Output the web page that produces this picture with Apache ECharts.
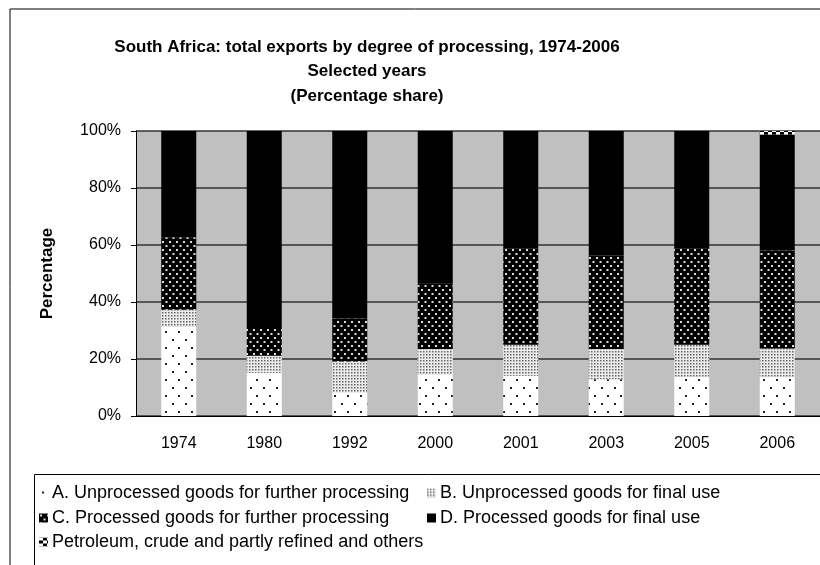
<!DOCTYPE html>
<html>
<head>
<meta charset="utf-8">
<script src="https://cdn.jsdelivr.net/npm/echarts@6/dist/echarts.min.js"></script>
<style>
    html, body { margin: 0; padding: 0; background: #fff; }
    #chart { width: 820px; height: 565px; }
</style>
</head>
<body>
<div id="chart"></div>
<script>
const years = ['1974', '1980', '1992', '2000', '2001', '2003', '2005', '2006']
const seriesNames = [
    'A. Unprocessed goods for further processing',
    'B. Unprocessed goods for final use',
    'C. Processed goods for further processing',
    'D. Processed goods for final use',
    'Petroleum, crude and partly refined and others'
]
// percentage shares
const unprocessedFurther = [31.4, 15.2, 8.3, 14.4, 14.1, 12.9, 13.8, 13.8]
const unprocessedFinal = [5.9, 5.9, 10.8, 9.1, 10.9, 10.6, 11.2, 9.9]
const processedFurther = [25.4, 10.1, 15.1, 23.1, 33.7, 32.8, 33.7, 34.4]
const processedFinal = [37.3, 68.8, 65.8, 53.4, 41.3, 43.7, 41.3, 40.7]
const petroleum = [0, 0, 0, 0, 0, 0, 0, 1.2]
const yTicks = [0, 20, 40, 60, 80, 100]

//填充图案
function makePattern(w, h, bg, fg, dots) {
    const c = document.createElement('canvas')
    c.width = w
    c.height = h
    const ctx = c.getContext('2d')
    ctx.fillStyle = bg
    ctx.fillRect(0, 0, w, h)
    ctx.fillStyle = fg
    dots.forEach(d => ctx.fillRect(d[0], d[1], d[2], d[3]))
    return { image: c, repeat: 'repeat' }
}

const patterns = [
    makePattern(13, 16, '#ffffff', '#222222', [[3, 3, 2, 2], [9, 11, 2, 2]]),
    makePattern(3, 3, '#ececec', '#666666', [[0, 0, 1.5, 1.5]]),
    makePattern(7, 8, '#000000', '#dddddd', [[1, 1, 2, 2], [4.5, 5, 2, 2]]),
    '#000000',
    makePattern(8, 6, '#ffffff', '#000000', [[0, 3, 4, 3], [4, 0, 4, 3]])
]
const values = [unprocessedFurther, unprocessedFinal, processedFurther, processedFinal, petroleum]

const font = 'Arial, "Liberation Sans", sans-serif'
const chart = echarts.init(document.getElementById('chart'))

const legendPos = [
    { left: 39, top: 484 },
    { left: 427, top: 484 },
    { left: 39, top: 509 },
    { left: 427, top: 509 },
    { left: 39, top: 533 }
]

const option = {
    animation: false,
    graphic: [
        {
            type: 'rect',
            shape: { x: 10, y: 9, width: 900, height: 700 },
            style: { fill: 'none', stroke: '#000', lineWidth: 1 },
            z: -1
        },
        {
            type: 'rect',
            shape: { x: 34.5, y: 474.5, width: 900, height: 200 },
            style: { fill: 'none', stroke: '#000', lineWidth: 1 }
        },
        {
            type: 'text',
            x: 367,
            y: 35,
            style: {
                text: 'South Africa: total exports by degree of processing, 1974-2006\nSelected years\n(Percentage share)',
                font: 'bold 17px ' + font,
                fill: '#000',
                align: 'center',
                lineHeight: 24.5
            }
        }
    ],
    legend: seriesNames.map((name, i) => ({
        data: [name],
        left: legendPos[i].left,
        top: legendPos[i].top,
        padding: 0,
        itemWidth: 9,
        itemHeight: 9,
        icon: 'rect',
        selectedMode: false,
        textStyle: { fontFamily: font, fontSize: 18, color: '#000', padding: [0, 0, 0, -1] }
    })),
    grid: {
        left: 136,
        top: 131,
        width: 686,
        height: 285
    },
    xAxis: {
        type: 'category',
        data: years,
        axisLine: { lineStyle: { color: '#000', width: 1 } },
        axisTick: { length: 5, lineStyle: { color: '#000' } },
        axisLabel: { fontFamily: font, fontSize: 16, color: '#000', margin: 20 }
    },
    yAxis: {
        type: 'value',
        min: 0,
        max: 100,
        interval: 20,
        name: 'Percentage',
        nameLocation: 'middle',
        nameGap: 80,
        nameTextStyle: { fontFamily: font, fontSize: 17, fontWeight: 'bold', color: '#000' },
        axisLine: { show: true, lineStyle: { color: '#000', width: 1 } },
        axisTick: { show: true, length: 5, lineStyle: { color: '#000' } },
        axisLabel: {
            fontFamily: font, fontSize: 16, color: '#000', margin: 15,
            formatter: v => yTicks.includes(v) ? v + '%' : ''
        },
        splitLine: { lineStyle: { color: '#333', width: 1.5 } },
        splitArea: { show: true, areaStyle: { color: ['#c0c0c0', '#c0c0c0'] } }
    },
    series: seriesNames.map((name, i) => ({
        name: name,
        type: 'bar',
        stack: 'total',
        barWidth: 35,
        data: values[i],
        itemStyle: { color: patterns[i] }
    }))
}
chart.setOption(option)
</script>
</body>
</html>
